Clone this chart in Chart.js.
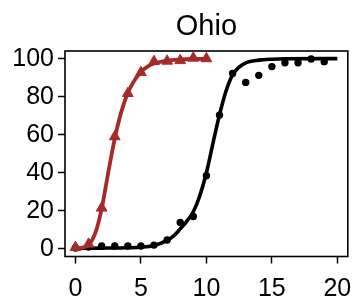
<!DOCTYPE html>
<html>
<head>
<meta charset="utf-8">
<script src="https://cdn.jsdelivr.net/npm/chart.js@4.4.1/dist/chart.umd.min.js"></script>
<style>
  html, body { margin: 0; padding: 0; background: #fff; }
  #wrap { width: 355px; height: 302px; }
</style>
</head>
<body>
<div id="wrap"><canvas id="ohioChart" width="355" height="302"></canvas></div>
<script>
const chartTitle = 'Ohio';

// measured points, black series
const blackDotX = [0, 1, 2, 3, 4, 5, 6, 7, 8, 9, 10, 11, 12, 13, 14, 15, 16, 17, 18, 19];
const blackDotY = [0.5, 1, 1.5, 1.5, 1.5, 1.5, 2, 4.7, 13.9, 17, 38.4, 70.3, 92.2, 87.5, 91.2, 95.8, 97.8, 97.8, 99.8, 98.4];

// measured points, red series
const redDotX = [0, 1, 2, 3, 4, 5, 6, 7, 8, 9, 10];
const redDotY = [0.8, 2.5, 21.5, 59, 81.7, 92.7, 98.5, 98.7, 99, 100.3, 100];

// fitted curve, black
const blackFitX = [0, 2, 4, 5, 6, 7, 7.5, 8, 8.5, 9, 9.5, 10, 10.5, 11, 11.5, 12, 12.5, 13, 14, 15, 16, 20];
const blackFitY = [0.3, 0.4, 0.6, 0.9, 1.8, 4.5, 6.8, 10.5, 14.5, 19.5, 28, 40, 55.5, 70.5, 83, 91.5, 95.5, 97.8, 99.2, 99.7, 99.9, 100];

// fitted curve, red
const redFitX = [0, 0.5, 1, 1.5, 2, 2.5, 3, 3.5, 4, 4.5, 5, 5.5, 6, 7, 8, 9, 10];
const redFitY = [0.2, 0.6, 2, 8, 21, 40, 58, 72, 82, 88.5, 93, 95.8, 97.4, 98.9, 99.5, 99.8, 99.9];

const xTicks = [0, 5, 10, 15, 20];
const yTicks = [0, 20, 40, 60, 80, 100];

const toPoints = (xs, ys) => xs.map((x, i) => ({ x: x, y: ys[i] }));

const font = '"Liberation Sans", Arial, Helvetica, sans-serif';
const brown = '#a52a2a';

const boxAndTitle = {
    id: 'boxAndTitle',
    beforeDatasetsDraw(chart) {
        const { ctx, chartArea: a } = chart;
        ctx.save();
        ctx.strokeStyle = '#000';
        ctx.lineWidth = 1.6;
        ctx.strokeRect(a.left, a.top, a.right - a.left, a.bottom - a.top);
        ctx.restore();
    },
    afterDraw(chart) {
        const { ctx, chartArea: a } = chart;
        ctx.save();
        ctx.fillStyle = '#000';
        ctx.font = '29px ' + font;
        ctx.textAlign = 'center';
        ctx.textBaseline = 'alphabetic';
        ctx.fillText(chartTitle, (a.left + a.right) / 2, 35);
        ctx.restore();
    }
};

const axisCommon = {
    type: 'linear',
    border: { display: false },
    grid: {
        display: true,
        drawOnChartArea: false,
        drawTicks: true,
        tickLength: 7,
        tickWidth: 1.5,
        tickColor: '#000'
    },
    ticks: {
        color: '#000',
        font: { family: font, size: 25 },
        padding: 3,
        maxRotation: 0,
        autoSkip: false
    }
};

new Chart(document.getElementById('ohioChart').getContext('2d'), {
    type: 'scatter',
    data: {
        datasets: [
            {
                data: toPoints(redDotX, redDotY),
                showLine: false,
                pointStyle: 'triangle',
                pointRadius: 6.2,
                pointBackgroundColor: brown,
                pointBorderColor: brown,
                pointBorderWidth: 1,
                order: 0
            },
            {
                data: toPoints(redFitX, redFitY),
                showLine: true,
                borderColor: brown,
                borderWidth: 3.8,
                pointRadius: 0,
                cubicInterpolationMode: 'monotone',
                order: 1
            },
            {
                data: toPoints(blackDotX, blackDotY),
                showLine: false,
                pointStyle: 'circle',
                pointRadius: 3.7,
                pointBackgroundColor: '#000',
                pointBorderColor: '#000',
                pointBorderWidth: 0,
                order: 2
            },
            {
                data: toPoints(blackFitX, blackFitY),
                showLine: true,
                borderColor: '#000',
                borderWidth: 3.6,
                pointRadius: 0,
                cubicInterpolationMode: 'monotone',
                order: 3
            }
        ]
    },
    options: {
        responsive: false,
        animation: false,
        layout: { padding: { top: 51, right: 4, left: 0, bottom: 0 } },
        plugins: {
            legend: { display: false },
            tooltip: { enabled: false },
            title: { display: false }
        },
        scales: {
            x: {
                ...axisCommon,
                min: -0.8,
                max: 20.8,
                ticks: { ...axisCommon.ticks, padding: 11 },
                afterBuildTicks: s => { s.ticks = xTicks.map(v => ({ value: v })); },
                afterFit: s => {
                    s.height = 45.5;
                    s.paddingLeft = 0;
                    s.paddingRight = 0;
                }
            },
            y: {
                ...axisCommon,
                min: -4,
                max: 104,
                ticks: { ...axisCommon.ticks, padding: 4 },
                afterBuildTicks: s => { s.ticks = yTicks.map(v => ({ value: v })); },
                afterFit: s => {
                    s.width = 65;
                    s.paddingTop = 0;
                    s.paddingBottom = 0;
                }
            }
        }
    },
    plugins: [boxAndTitle]
});
</script>
</body>
</html>
